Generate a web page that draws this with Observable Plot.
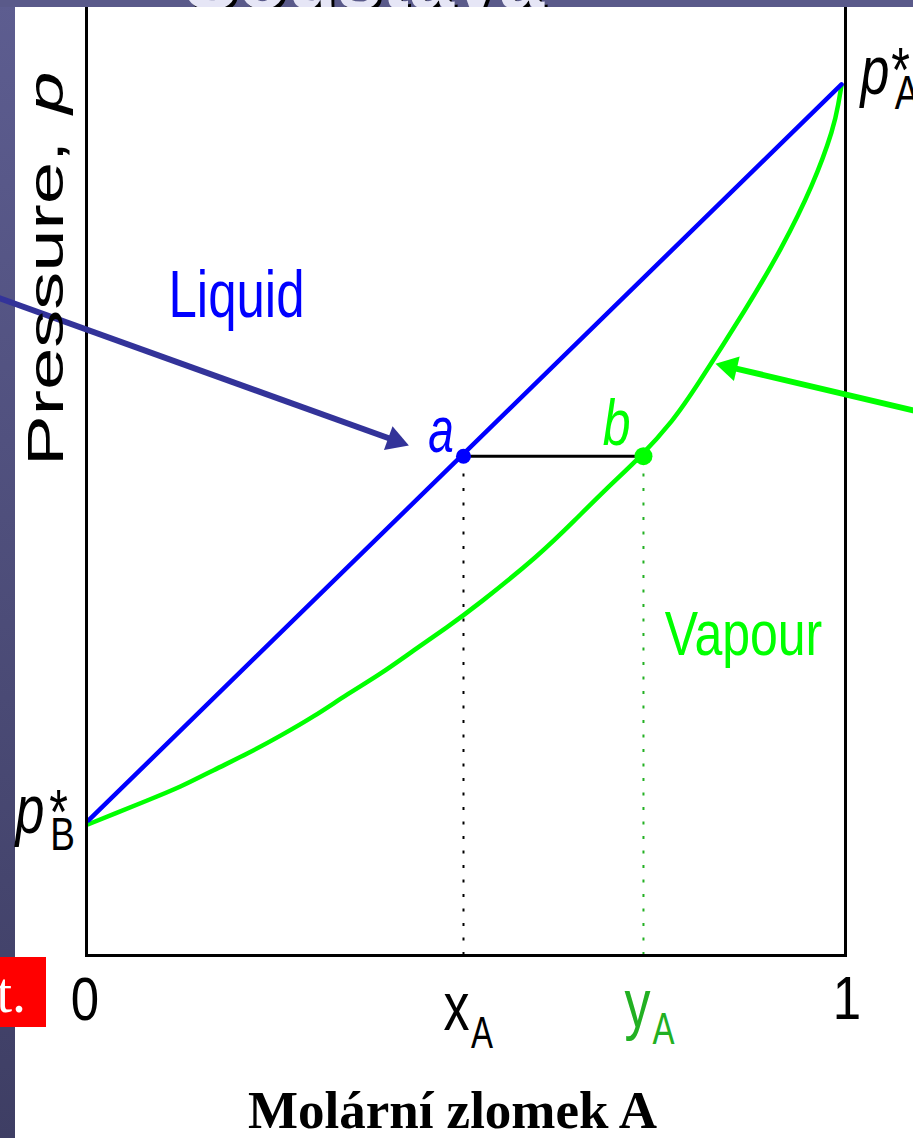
<!DOCTYPE html>
<html>
<head>
<meta charset="utf-8">
<script src="https://cdn.jsdelivr.net/npm/d3@7"></script>
<script src="https://cdn.jsdelivr.net/npm/@observablehq/plot@0.6"></script>
<style>
  html, body { margin: 0; padding: 0; width: 913px; height: 1138px; overflow: hidden;
    background: linear-gradient(#5d5d90, #3e3e64); }
  #paper { position: absolute; left: 15px; top: 7px; right: 0; bottom: 0; background: #fff; }
  #chart { position: absolute; left: 0; top: 0; }
  #topbar { position: absolute; left: 0; top: 0; width: 913px; height: 7px; overflow: hidden;
    background: #5a5a8a; z-index: 5; }
  #topbar span { position: absolute; left: 184px; top: -66px; font: bold 81px "Liberation Sans", Arial, sans-serif;
    color: #e6e6f6; text-shadow: 3px 3px 0 #000; white-space: nowrap; }
  #redbox { position: absolute; left: 0; top: 957px; width: 46px; height: 70px; background: #ff0000;
    overflow: hidden; z-index: 5; }
  #redbox span { position: absolute; right: 20px; top: 4px; font: 56px "Liberation Serif", "Times New Roman", serif;
    color: #fff; white-space: nowrap; }
</style>
</head>
<body>
<div id="paper"></div>
<div id="chart"></div>
<div id="topbar"><span>Soustava</span></div>
<div id="redbox"><span>t.</span></div>
<script>
// ---- data (x = mole fraction of A, p = pressure, arbitrary units) ----
const liquidX = [0, 1];
const liquidP = [1.42, 9.16];

const vapourX = [0, 0.034, 0.078, 0.122, 0.166, 0.211, 0.255, 0.299, 0.344, 0.388, 0.432, 0.476, 0.516,
                 0.600, 0.645, 0.689, 0.733, 0.777, 0.804, 0.875, 0.919, 0.963, 0.990, 0.996, 1.0];
const vapourP = [1.38, 1.49, 1.63, 1.77, 1.95, 2.12, 2.31, 2.51, 2.75, 2.96, 3.21, 3.45, 3.68,
                 4.22, 4.57, 4.92, 5.24, 5.63, 5.94, 6.82, 7.41, 8.11, 8.71, 8.96, 9.15];

const xA = 0.498;      // liquid composition (point a)
const yA = 0.737;      // vapour composition (point b)
const tieP = 5.25;     // pressure of the tie line a–b

const tickValues = [0, 1];
const tickLabels = ["0", "1"];

// annotation arrows (data coordinates)
const blueArrow = {x1: -0.1235, p1: 6.927, x2: 0.4072, p2: 5.415, angle: 109.8};
const greenArrow = {x1: 1.1049, p1: 5.714, x2: 0.8515, p2: 6.187, angle: -76.75};

// text labels: text, x, p, size, stretch, colour, italic, rotate
const labels = [
  {t: "Liquid",  x: 0.1972, p: 6.934, size: 51, s: 1.29, c: "#0000ff"},
  {t: "Vapour",  x: 0.8705, p: 3.365, size: 50, s: 1.25, c: "#00ff00"},
  {t: "a",       x: 0.4688, p: 5.515, size: 46, s: 1.42, c: "#0000ff", it: true},
  {t: "b",       x: 0.7019, p: 5.588, size: 50, s: 1.30, c: "#00ff00", it: true},
  {t: tickLabels[0], x: tickValues[0] - 0.004, p: -0.478, size: 51, s: 1.18, c: "#000"},
  {t: tickLabels[1], x: tickValues[1] + 0.008, p: -0.468, size: 51, s: 1.20, c: "#000"},
  {t: "x",       x: 0.4894, p: -0.557, size: 52, s: 1.30, c: "#000"},
  {t: "A",       x: 0.5232, p: -0.824, size: 33, s: 1.35, c: "#000"},
  {t: "y",       x: 0.7297, p: -0.526, size: 52, s: 1.30, c: "#22b022"},
  {t: "A",       x: 0.7643, p: -0.788, size: 33, s: 1.35, c: "#22b022"},
  {t: "p",       x: -0.0770, p: 1.523, size: 52, s: 1.32, c: "#000", it: true},
  {t: "*",       x: -0.0392, p: 1.494, size: 48, s: 1.30, c: "#000"},
  {t: "B",       x: -0.0339, p: 1.262, size: 37, s: 1.25, c: "#000"},
  {t: "p",       x: 1.0452, p: 9.293, size: 52, s: 1.32, c: "#000", it: true},
  {t: "*",       x: 1.0790, p: 9.301, size: 48, s: 1.30, c: "#000"},
  {t: "A",       x: 1.0877, p: 9.057, size: 37, s: 1.30, c: "#000"},
  {t: "Pressure,", x: -0.0544, p: 6.851, size: 50, s: 1.52, c: "#000", rot: -90},
  {t: "p",       x: -0.0544, p: 9.064, size: 50, s: 1.52, c: "#000", it: true, rot: -90}
];

const xTitle = "Molární zlomek A";

// ---- build ----
const liquid = liquidX.map((x, i) => ({x, p: liquidP[i]}));
const vapour = vapourX.map((x, i) => ({x, p: vapourP[i]}));

const labelMarks = labels.map(d => Plot.text([d], {
  x: "x", y: "p", text: "t",
  fill: d.c, fontSize: d.size, fontFamily: "Liberation Sans, Arial, sans-serif",
  fontStyle: d.it ? "italic" : "normal",
  textAnchor: "middle", lineAnchor: "middle",
  rotate: d.rot || 0,
  ariaDescription: "stretch " + d.s
}));

const plot = Plot.plot({
  width: 913,
  height: 1138,
  marginLeft: 86,
  marginRight: 68,
  marginTop: 4,
  marginBottom: 183,
  style: {background: "transparent", overflow: "visible"},
  x: {domain: [0, 1], insetLeft: 2, insetRight: 4, axis: null},
  y: {domain: [0, 10], axis: null},
  marks: [
    Plot.ruleX([xA], {y1: 0, y2: tieP, stroke: "#000", strokeWidth: 2, strokeDasharray: "3,11.5"}),
    Plot.ruleX([yA], {y1: 0, y2: tieP, stroke: "#22b022", strokeWidth: 2, strokeDasharray: "3,11.5"}),
    Plot.line(vapour, {x: "x", y: "p", stroke: "#00ff00", strokeWidth: 4.5, curve: "basis"}),
    Plot.line(liquid, {x: "x", y: "p", stroke: "#0000ff", strokeWidth: 4.5}),
    Plot.ruleY([tieP], {x1: xA, x2: yA, stroke: "#000", strokeWidth: 3}),
    Plot.dot([{x: xA, p: tieP}], {x: "x", y: "p", r: 7.5, fill: "#0000ff"}),
    Plot.dot([{x: yA, p: tieP}], {x: "x", y: "p", r: 9, fill: "#00ff00"}),
    Plot.frame({stroke: "#000", strokeWidth: 3}),
    Plot.link([blueArrow], {x1: "x1", y1: "p1", x2: "x2", y2: "p2", stroke: "#333399", strokeWidth: 6}),
    Plot.dot([blueArrow], {x: "x2", y: "p2", symbol: "triangle", r: 9.4, fill: "#333399", rotate: "angle"}),
    Plot.link([greenArrow], {x1: "x1", y1: "p1", x2: "x2", y2: "p2", stroke: "#00ff00", strokeWidth: 6}),
    Plot.dot([greenArrow], {x: "x2", y: "p2", symbol: "triangle", r: 9.4, fill: "#00ff00", rotate: "angle"}),
    ...labelMarks,
    Plot.text([xTitle], {x: 0.4834, y: -1.809, text: d => d, fontSize: 53, fontWeight: "bold",
      fontFamily: "Liberation Serif, Times New Roman, serif", fill: "#000",
      textAnchor: "middle", lineAnchor: "bottom"})
  ]
});

document.getElementById("chart").appendChild(plot);

plot.querySelectorAll('g[aria-description^="stretch"]').forEach(g => {
  const s = +g.getAttribute("aria-description").split(" ")[1];
  g.style.transformBox = "fill-box";
  g.style.transformOrigin = "center";
  g.style.transform = `scaleY(${s})`;
});
</script>
</body>
</html>
